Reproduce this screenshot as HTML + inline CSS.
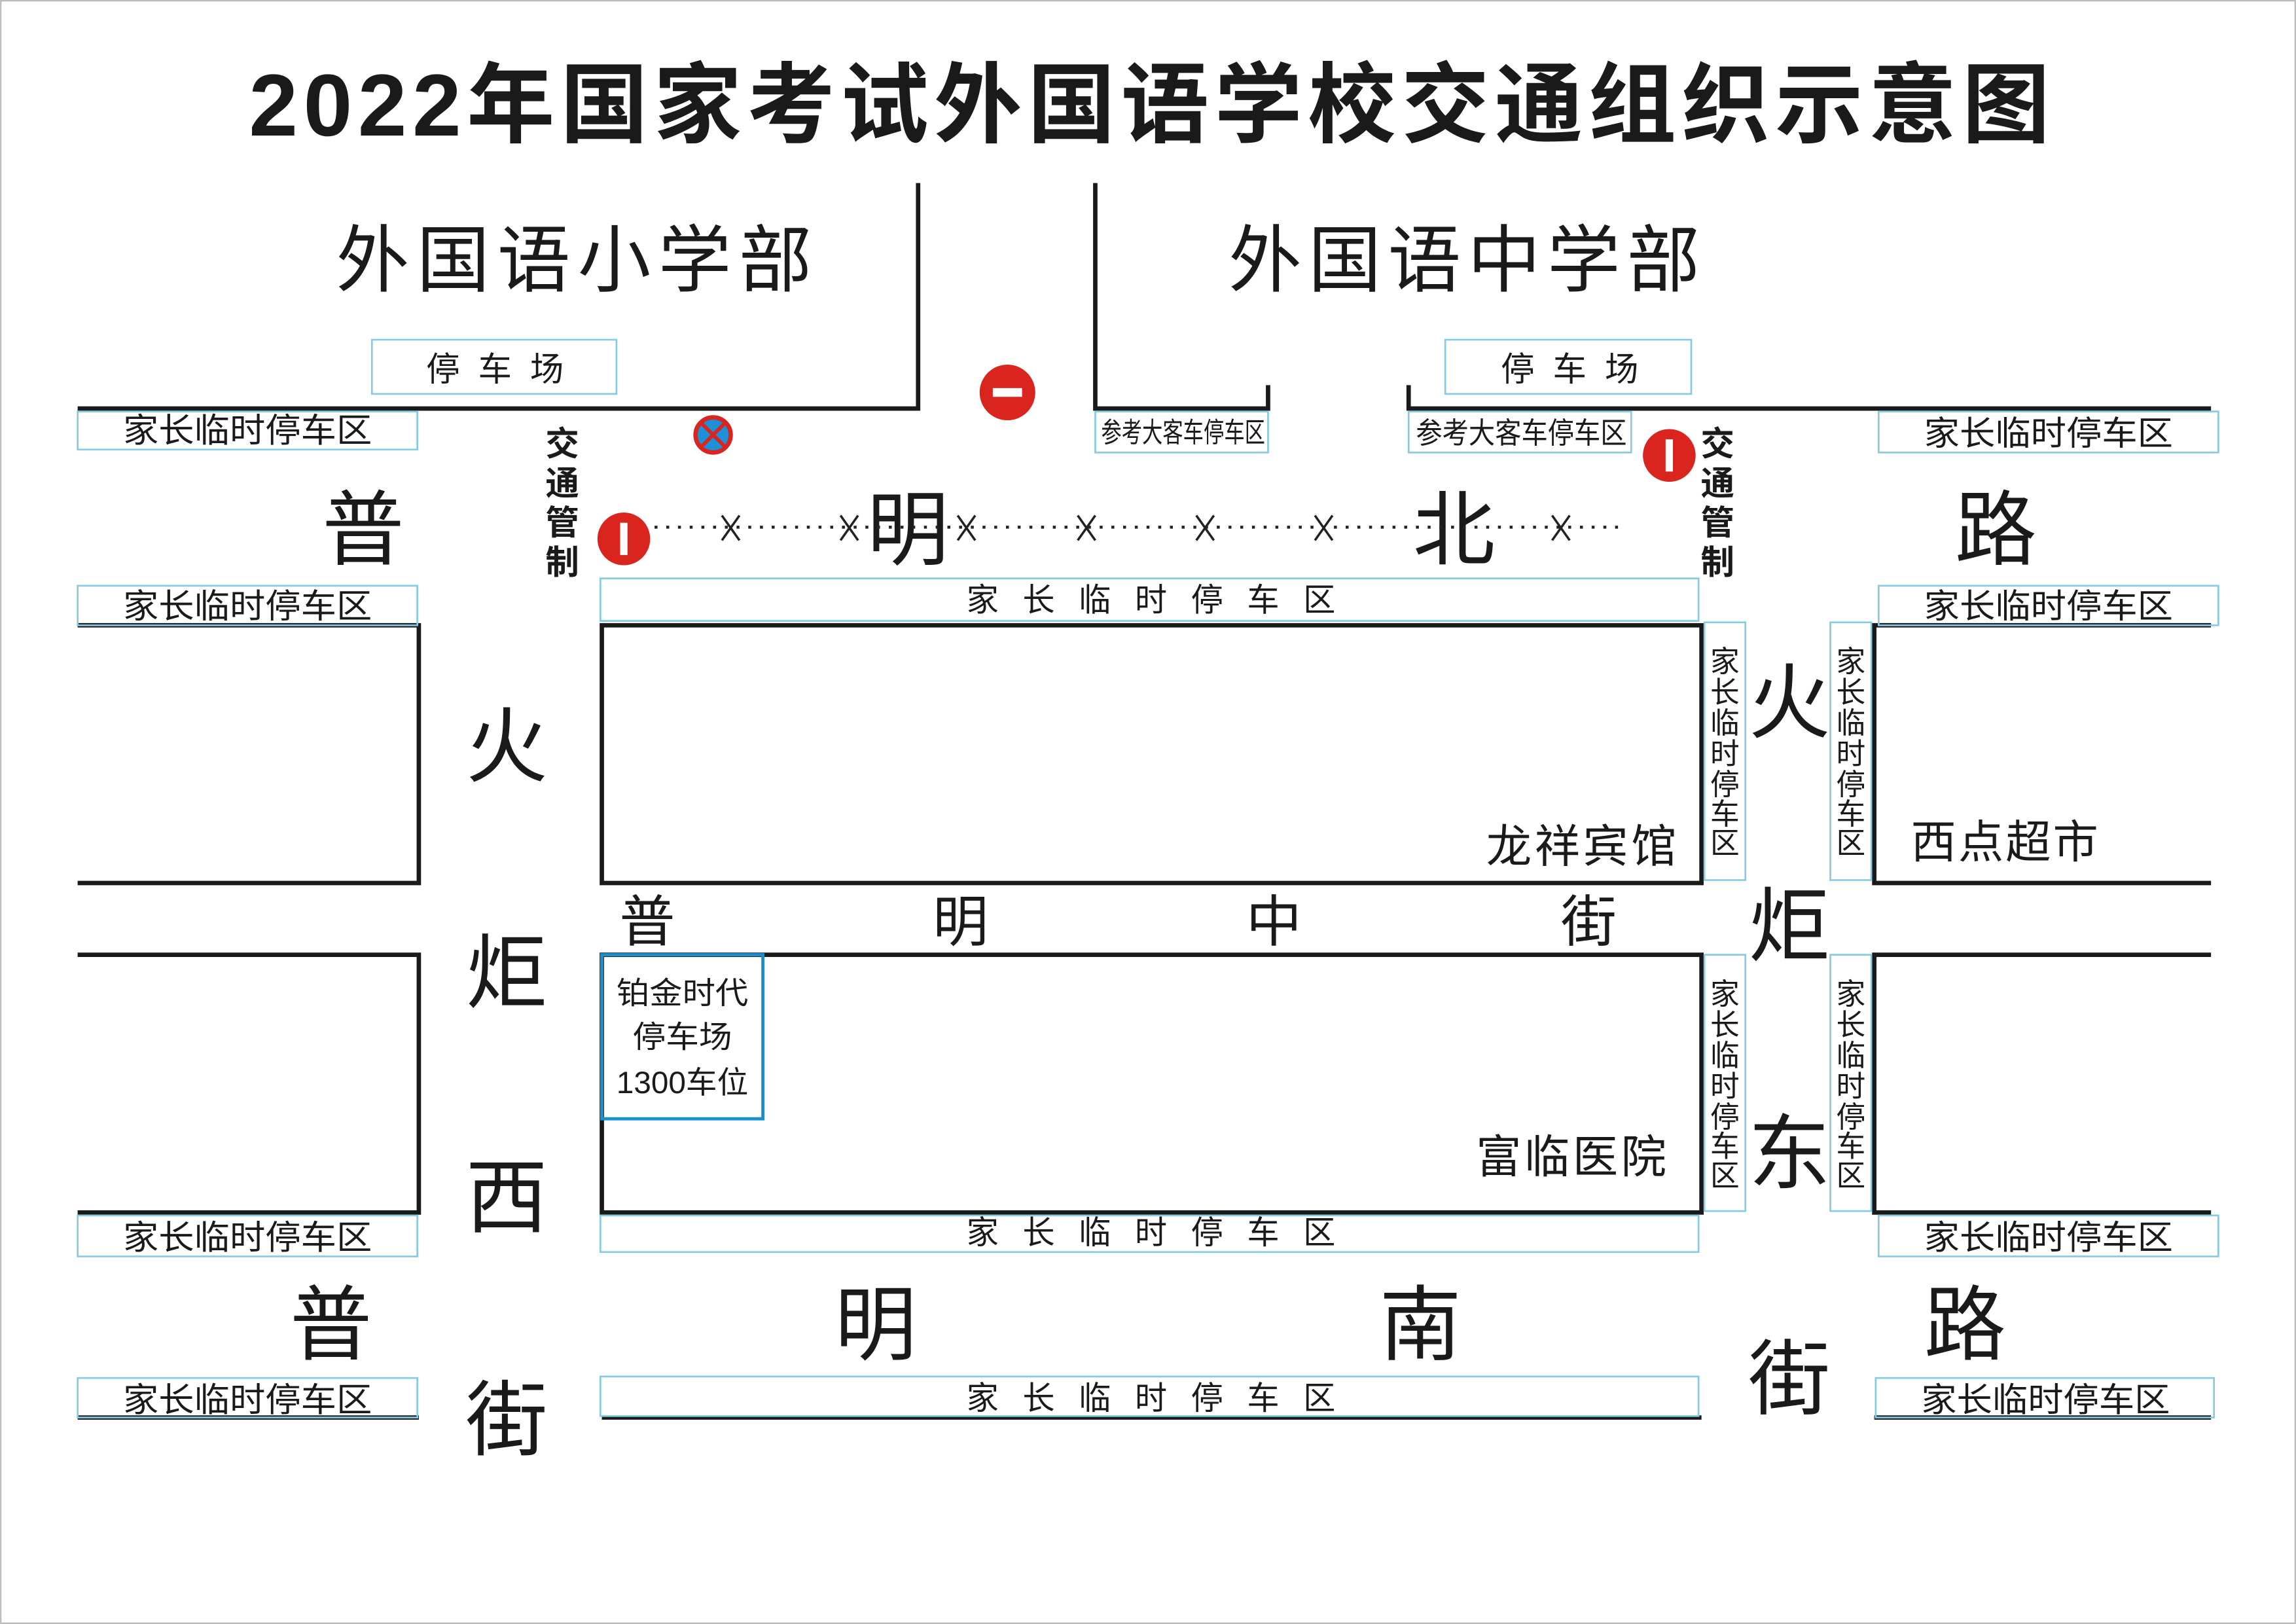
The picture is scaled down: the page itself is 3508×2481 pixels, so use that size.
<!DOCTYPE html>
<html><head><meta charset="utf-8"><style>
html,body{margin:0;padding:0;background:#fff}
svg{display:block}
text{font-family:"Liberation Sans","Noto Sans CJK SC",sans-serif;fill:#1a1a1a}
</style></head><body>
<svg width="3508" height="2481" viewBox="0 0 1568 1109" xmlns="http://www.w3.org/2000/svg">
<rect x="0.5" y="0.5" width="1567" height="1108" fill="#fff" stroke="#bbb" stroke-width="1"/>
<text x="785" y="72" font-size="60" font-weight="bold" text-anchor="middle" dominant-baseline="central" fill="#231f20" textLength="1230" lengthAdjust="spacing">2022年国家考试外国语学校交通组织示意图</text>

<g stroke="#1a1a1a" stroke-width="3" fill="none">
<polyline points="53,279 627,279 627,125"/>
<polyline points="748,125 748,279 866,279 866,263"/>
<polyline points="962,263 962,279 1510,279"/>
<polyline points="53,427 286,427 286,603 53,603"/>
<polyline points="53,652 286,652 286,828 53,828"/>
<rect x="411" y="427" width="751" height="176"/>
<rect x="411" y="652" width="751" height="176"/>
<polyline points="1510,427 1280,427 1280,603 1510,603"/>
<polyline points="1510,652 1280,652 1280,828 1510,828"/>
<line x1="53" y1="968" x2="286" y2="968"/>
<line x1="411" y1="968" x2="1162" y2="968"/>
<line x1="1280" y1="968" x2="1510" y2="968"/>
</g>

<g stroke="#86cbe3" stroke-width="1.2" fill="none">
<rect x="254" y="232" width="167" height="37"/>
<rect x="987" y="232" width="168" height="37"/>
<rect x="53" y="281" width="232" height="26"/>
<rect x="53" y="400" width="232" height="27"/>
<rect x="53" y="830" width="232" height="28"/>
<rect x="53" y="941" width="232" height="27"/>
<rect x="748" y="281" width="118" height="28"/>
<rect x="962" y="281" width="152" height="28"/>
<rect x="1283" y="281" width="232" height="28"/>
<rect x="1283" y="400" width="232" height="27"/>
<rect x="1283" y="830" width="232" height="28"/>
<rect x="1281" y="941" width="231" height="27"/>
<rect x="410" y="395" width="750" height="29"/>
<rect x="410" y="830" width="750" height="25"/>
<rect x="410" y="940" width="750" height="27"/>
<rect x="1164" y="425" width="28" height="176"/>
<rect x="1250" y="425" width="28" height="176"/>
<rect x="1164" y="652" width="28" height="175"/>
<rect x="1250" y="652" width="28" height="175"/>
</g>
<rect x="411" y="652" width="110" height="112" fill="none" stroke="#1a8fd0" stroke-width="2.2"/>

<g text-anchor="middle" dominant-baseline="central">
<text x="338" y="252" font-size="23" textLength="94" lengthAdjust="spacing">停车场</text>
<text x="1072" y="252" font-size="23" textLength="94" lengthAdjust="spacing">停车场</text>
<g font-size="23">
<text x="169" y="294" textLength="170" lengthAdjust="spacingAndGlyphs">家长临时停车区</text>
<text x="169" y="414" textLength="170" lengthAdjust="spacingAndGlyphs">家长临时停车区</text>
<text x="169" y="845" textLength="170" lengthAdjust="spacingAndGlyphs">家长临时停车区</text>
<text x="169" y="956" textLength="170" lengthAdjust="spacingAndGlyphs">家长临时停车区</text>
<text x="1399" y="296" textLength="170" lengthAdjust="spacingAndGlyphs">家长临时停车区</text>
<text x="1399" y="414" textLength="170" lengthAdjust="spacingAndGlyphs">家长临时停车区</text>
<text x="1399" y="845" textLength="170" lengthAdjust="spacingAndGlyphs">家长临时停车区</text>
<text x="1397" y="956" textLength="170" lengthAdjust="spacingAndGlyphs">家长临时停车区</text>
</g>
<text x="808" y="296" font-size="19" textLength="112" lengthAdjust="spacingAndGlyphs">参考大客车停车区</text>
<text x="1039" y="296" font-size="20" textLength="144" lengthAdjust="spacingAndGlyphs">参考大客车停车区</text>
<text x="786" y="410" font-size="22" textLength="252" lengthAdjust="spacing">家长临时停车区</text>
<text x="786" y="842" font-size="22" textLength="252" lengthAdjust="spacing">家长临时停车区</text>
<text x="786" y="955" font-size="22" textLength="252" lengthAdjust="spacing">家长临时停车区</text>
<text x="466" y="678" font-size="21" textLength="90" lengthAdjust="spacingAndGlyphs">铂金时代</text>
<text x="466" y="708" font-size="21" textLength="68" lengthAdjust="spacingAndGlyphs">停车场</text>
<text x="466" y="739" font-size="21" textLength="90" lengthAdjust="spacingAndGlyphs">1300车位</text>

<text x="392" y="178" font-size="50" textLength="325" lengthAdjust="spacing">外国语小学部</text>
<text x="1000" y="178" font-size="50" textLength="322" lengthAdjust="spacing">外国语中学部</text>

<text x="1080" y="578" font-size="31" textLength="130" lengthAdjust="spacing">龙祥宾馆</text>
<text x="1073" y="790" font-size="31" textLength="130" lengthAdjust="spacing">富临医院</text>
<text x="1369" y="575" font-size="31" textLength="128" lengthAdjust="spacing">西点超市</text>

<g font-size="56">
<text x="248" y="362">普</text><text x="620" y="362">明</text><text x="993" y="362">北</text><text x="1363" y="362">路</text>
<text x="346" y="510">火</text><text x="346" y="665">炬</text><text x="346" y="818">西</text><text x="346" y="970">街</text>
<text x="226" y="905">普</text><text x="598" y="905">明</text><text x="970" y="905">南</text><text x="1342" y="905">路</text>
<text x="1222" y="942">街</text><text x="1222" y="480">火</text><text x="1222" y="633">炬</text><text x="1222" y="788">东</text>
</g>
<g font-size="38">
<text x="442" y="630">普</text><text x="656" y="630">明</text><text x="870" y="630">中</text><text x="1085" y="630">街</text>
</g>
<g font-size="23" font-weight="bold">
<text x="384" y="303">交</text><text x="384" y="330">通</text><text x="384" y="357">管</text><text x="384" y="384">制</text>
<text x="1173" y="303">交</text><text x="1173" y="330">通</text><text x="1173" y="357">管</text><text x="1173" y="384">制</text>
</g>
<g font-size="20">
<text x="1178" y="452">家</text><text x="1178" y="473">长</text><text x="1178" y="494">临</text><text x="1178" y="515">时</text><text x="1178" y="536">停</text><text x="1178" y="556">车</text><text x="1178" y="576">区</text>
<text x="1264" y="452">家</text><text x="1264" y="473">长</text><text x="1264" y="494">临</text><text x="1264" y="515">时</text><text x="1264" y="536">停</text><text x="1264" y="556">车</text><text x="1264" y="576">区</text>
<text x="1178" y="679">家</text><text x="1178" y="700">长</text><text x="1178" y="721">临</text><text x="1178" y="742">时</text><text x="1178" y="763">停</text><text x="1178" y="783">车</text><text x="1178" y="803">区</text>
<text x="1264" y="679">家</text><text x="1264" y="700">长</text><text x="1264" y="721">临</text><text x="1264" y="742">时</text><text x="1264" y="763">停</text><text x="1264" y="783">车</text><text x="1264" y="803">区</text>
</g>
</g>

<line x1="447" y1="360" x2="1110" y2="360" stroke="#222" stroke-width="2" stroke-dasharray="2,6"/>
<g stroke="#222" stroke-width="1.6">
<path d="M493,352 L505,369 M505,352 L493,369"/>
<path d="M574,352 L586,369 M586,352 L574,369"/>
<path d="M654,352 L666,369 M666,352 L654,369"/>
<path d="M736,352 L748,369 M748,352 L736,369"/>
<path d="M817,352 L829,369 M829,352 L817,369"/>
<path d="M898,352 L910,369 M910,352 L898,369"/>
<path d="M1060,352 L1072,369 M1072,352 L1060,369"/>
</g>

<circle cx="426" cy="368" r="18" fill="#d9251d"/>
<rect x="423.5" y="357" width="5" height="22" fill="#fff"/>
<circle cx="1140" cy="311" r="18" fill="#d9251d"/>
<rect x="1137.5" y="300" width="5" height="22" fill="#fff"/>
<circle cx="688" cy="268" r="19" fill="#d9251d"/>
<rect x="678" y="265" width="20" height="6" fill="#fff"/>
<circle cx="487" cy="297" r="12" fill="#1e90d8" stroke="#d9251d" stroke-width="3"/>
<path d="M479,289 L495,305 M495,289 L479,305" stroke="#d9251d" stroke-width="2.5"/>
</svg>
</body></html>
